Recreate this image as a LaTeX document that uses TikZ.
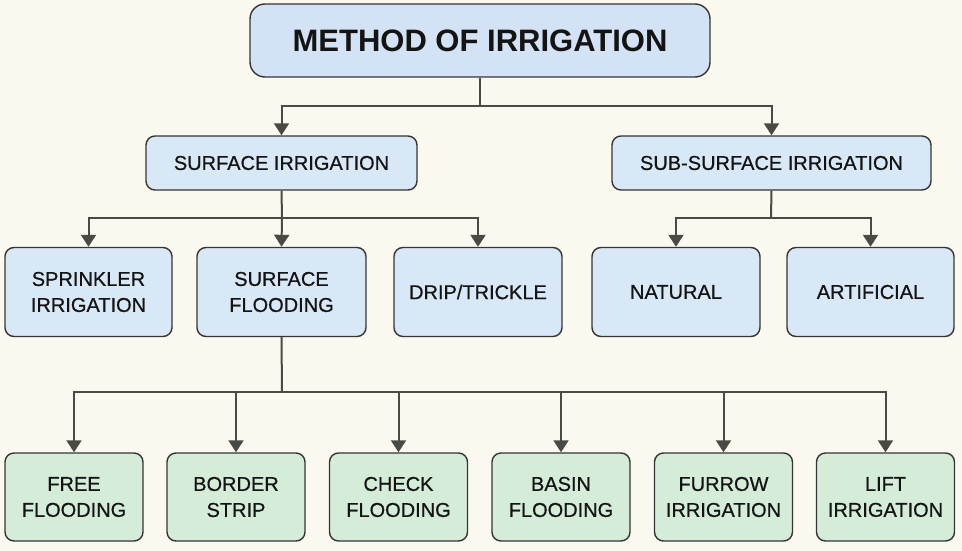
\documentclass[tikz,border=0pt]{standalone}
\usepackage{fontspec}
\setmainfont{Liberation Sans}
\newfontfamily\medfont[FakeBold=0.6]{Liberation Sans}
\usetikzlibrary{arrows.meta}
\definecolor{bgc}{HTML}{FBF9EF}
\definecolor{bluefill}{HTML}{D9E8F6}
\definecolor{topfill}{HTML}{D3E3F5}
\definecolor{greenfill}{HTML}{D5ECD9}
\definecolor{edgec}{HTML}{353535}
\definecolor{linec}{HTML}{4A4A44}
\definecolor{txtc}{HTML}{141414}
\tikzset{
  box/.style={draw=edgec, line width=1.4pt, rounded corners=9pt, align=center,
    text=txtc, inner sep=0pt, font=\medfont\fontsize{20}{26}\selectfont},
  bluebox/.style={box, fill=bluefill},
  greenbox/.style={box, fill=greenfill, minimum width=138pt, minimum height=88pt},
  conn/.style={draw=linec, line width=2pt},
  arr/.style={conn, -{Triangle[length=12pt,width=15pt]}},
}
\begin{document}
\begin{tikzpicture}[x=1pt,y=-1pt]
\fill[bgc] (0,0) rectangle (962,551);
\useasboundingbox (0,0) rectangle (962,551);

\node[box, fill=topfill, rounded corners=15pt, minimum width=460pt, minimum height=73pt,
  font=\fontsize{31}{36}\selectfont\bfseries] (top) at (480,40.5) {METHOD OF IRRIGATION};

\node[bluebox, minimum width=271pt, minimum height=54pt] (surf) at (281.5,163) {SURFACE IRRIGATION};
\node[bluebox, minimum width=319pt, minimum height=54pt] (sub) at (771.5,163) {SUB-SURFACE IRRIGATION};

\node[bluebox, minimum width=167pt, minimum height=89pt] (sprink) at (88.5,292) {SPRINKLER\\IRRIGATION};
\node[bluebox, minimum width=169pt, minimum height=89pt] (sflood) at (281.5,292) {SURFACE\\FLOODING};
\node[bluebox, minimum width=168pt, minimum height=89pt] (drip) at (478,292) {DRIP/TRICKLE};
\node[bluebox, minimum width=168pt, minimum height=89pt] (nat) at (676,292) {NATURAL};
\node[bluebox, minimum width=167pt, minimum height=89pt] (art) at (870.5,292) {ARTIFICIAL};

\node[greenbox] (free) at (74,497) {FREE\\FLOODING};
\node[greenbox] (border) at (236,497) {BORDER\\STRIP};
\node[greenbox] (check) at (398.5,497) {CHECK\\FLOODING};
\node[greenbox] (basin) at (561,497) {BASIN\\FLOODING};
\node[greenbox] (furrow) at (723.5,497) {FURROW\\IRRIGATION};
\node[greenbox] (lift) at (885.5,497) {LIFT\\IRRIGATION};

\coordinate (j1) at (480,106);
\coordinate (j2) at (282,218);
\coordinate (j3) at (771,218);
\coordinate (j4) at (282,392);

\draw[conn] (top.south) -- (j1);
\draw[arr] (j1) -| (surf.north);
\draw[arr] (j1) -| (sub.north);

\draw[conn] (surf.south) -- (j2);
\draw[arr] (j2) -| (sprink.north);
\draw[arr] (j2) -- (sflood.north);
\draw[arr] (j2) -| (drip.north);

\draw[conn] (sub.south) -- (j3);
\draw[arr] (j3) -| (nat.north);
\draw[arr] (j3) -| (art.north);

\draw[conn] (sflood.south) -- (j4);
\draw[arr] (j4) -| (free.north);
\draw[arr] (j4) -| (border.north);
\draw[arr] (j4) -| (check.north);
\draw[arr] (j4) -| (basin.north);
\draw[arr] (j4) -| (furrow.north);
\draw[arr] (j4) -| (lift.north);
\end{tikzpicture}
\end{document}
